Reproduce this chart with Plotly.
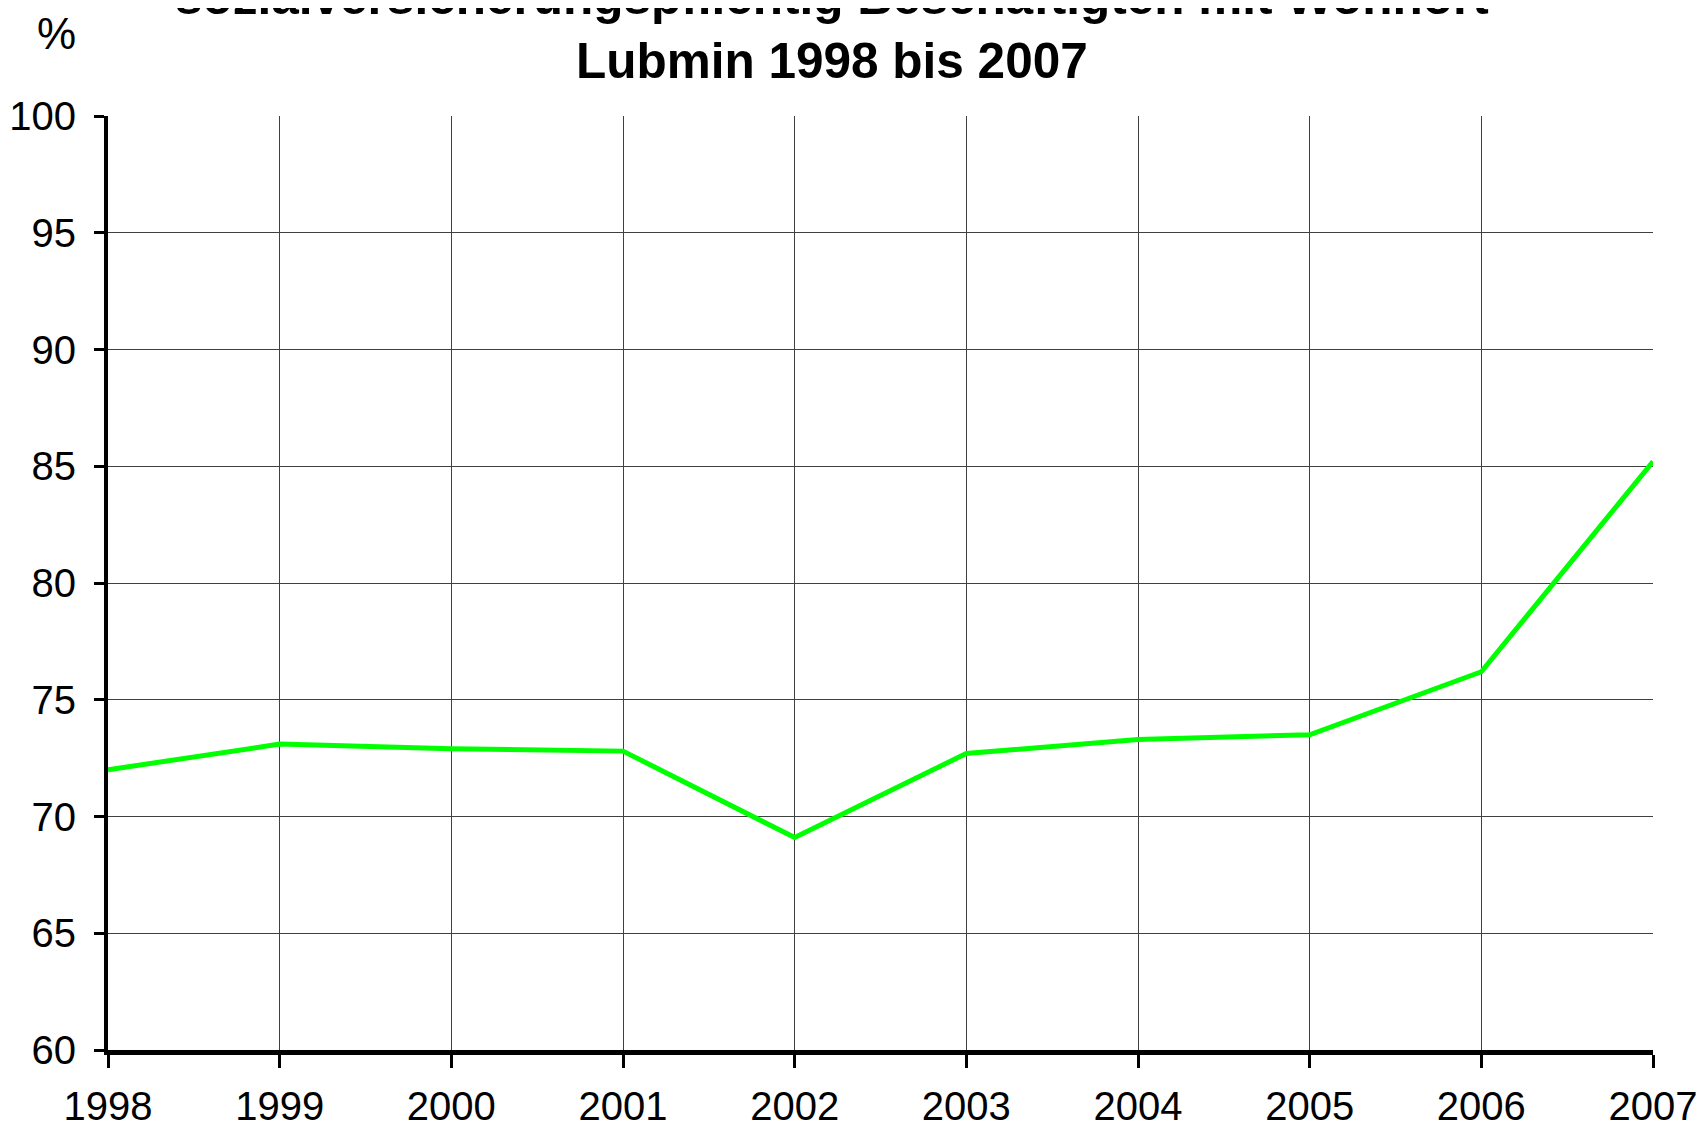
import plotly.graph_objects as go

years = [1998, 1999, 2000, 2001, 2002, 2003, 2004, 2005, 2006, 2007]
anteil = [72.0, 73.1, 72.9, 72.8, 69.1, 72.7, 73.3, 73.5, 76.2, 85.2]
title_lines = ["sozialversicherungspflichtig Beschäftigten mit Wohnort",
               "Lubmin 1998 bis 2007"]
y_unit = "%"

# page has an 8px body margin, so the figure starts at (8, 8)
OFF = 8
W, H = 1700, 1126
L, R, T, B = 100, 55, 108, 84
plot_h = H - T - B
plot_w = W - L - R

def py(pix):
    return (H - B - (pix - OFF)) / plot_h

def px(pix):
    return ((pix - OFF) - L) / plot_w

fig = go.Figure()
fig.add_trace(go.Scatter(x=years, y=anteil, mode="lines",
                         line=dict(color="#00FF00", width=5),
                         showlegend=False, cliponaxis=False))

font_family = "Liberation Sans, Arial, sans-serif"
fig.update_layout(
    width=W, height=H,
    margin=dict(l=L, r=R, t=T, b=B, autoexpand=False),
    paper_bgcolor="white", plot_bgcolor="white",
    font=dict(family=font_family, color="black"),
    xaxis=dict(range=[1998, 2007], tickmode="array", tickvals=years,
               ticktext=[str(y) for y in years],
               showgrid=True, gridcolor="#404040", gridwidth=1,
               showline=True, linecolor="black", linewidth=5,
               ticks="outside", ticklen=13, tickwidth=3, tickcolor="black",
               tickfont=dict(size=40, family=font_family),
               ticklabelstandoff=4, zeroline=False, automargin=False),
    yaxis=dict(range=[60, 100], tickmode="linear", tick0=60, dtick=5,
               showgrid=True, gridcolor="#404040", gridwidth=1,
               showline=True, linecolor="black", linewidth=4,
               ticks="outside", ticklen=10, tickwidth=3, tickcolor="black",
               tickfont=dict(size=40, family=font_family),
               ticklabelstandoff=10, zeroline=False, automargin=False),
)

fig.add_annotation(text="<br>".join(title_lines), xref="paper", yref="paper",
                   x=px(832), y=py(29), xanchor="center", yanchor="middle",
                   showarrow=False,
                   font=dict(size=49.5, family=font_family, color="black", weight="bold"))
fig.add_annotation(text=y_unit, xref="paper", yref="paper",
                   x=px(57), y=py(33), xanchor="center", yanchor="middle",
                   showarrow=False, font=dict(size=44, family=font_family, color="black"))

fig.write_html("out.html")
